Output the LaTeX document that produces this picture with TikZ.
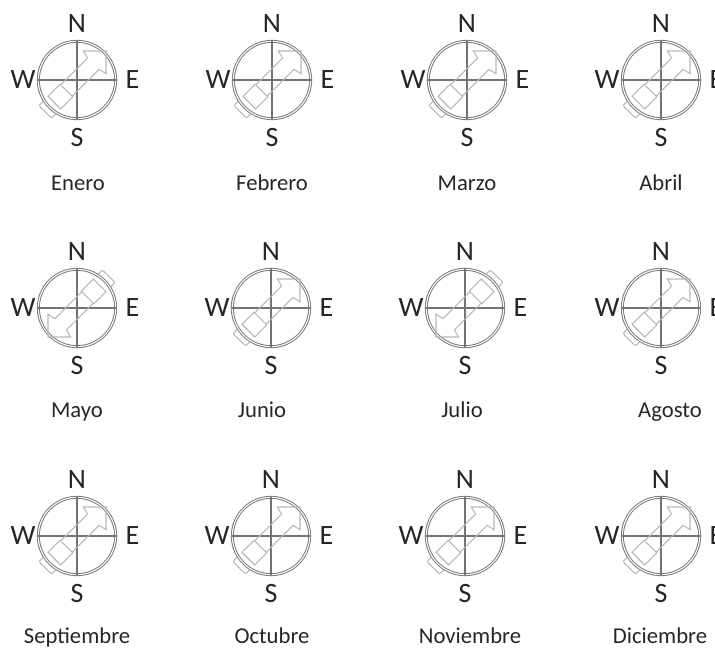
\documentclass[tikz,border=0pt]{standalone}
\usepackage{fontspec}
\setmainfont{Carlito}
\usetikzlibrary{positioning}

\begin{document}
\begin{tikzpicture}[
    x=0.75pt, y=0.75pt,
    node distance=1pt,
    dial/.style={circle, draw=black!55, double, double distance=0.8pt, line width=0.7pt, minimum size=58pt, inner sep=0pt},
    cross/.style={draw=black!55, line width=0.9pt},
    compassletter/.style={font=\fontsize{21}{21}\selectfont, text=black!85, inner sep=0pt},
    monthname/.style={font=\fontsize{17}{18}\selectfont, text=black!85, inner sep=0pt, anchor=base},
    sail/.style={draw=black!28, line width=0.8pt},
]
\useasboundingbox (0,0) rectangle (715,650);

% one compass per month: x / y / month / direction / x and y of the name
\foreach \cx/\cy/\month/\dir/\mx/\my [count=\i] in {
    77/570/Enero/45/78/459, 272/570/Febrero/45/272/459, 467/570/Marzo/45/467/459, 661/570/Abril/45/661/459,
    77/342/Mayo/225/77/232, 271/342/Junio/45/262/232, 465/342/Julio/225/462/232, 661/342/Agosto/45/670/232,
    77/114/Septiembre/45/77/6, 271/114/Octubre/45/272/6, 465/114/Noviembre/45/470/6, 661/114/Diciembre/45/660/6}
{
    % Ring and letters
    \node[dial] (ring\i) at (\cx,\cy) {};
    \node[compassletter, above=6pt of ring\i] (north\i) {N};
    \node[compassletter, below=7pt of ring\i] (south\i) {S};
    \node[compassletter, left=1.5pt of ring\i] (west\i) {W};
    \node[compassletter, right=7pt of ring\i] (east\i) {E};
    \node[monthname] (month\i) at (\mx,\my) {\month};

    % Cross
    \draw[cross] (ring\i.north) -- (ring\i.south);
    \draw[cross] (ring\i.west) -- (ring\i.east);

    % Arrow with its square tail
    \begin{scope}[shift={(\cx,\cy)}, rotate=\dir]
        \draw[sail] (-15,8) -- (23,8) -- (25,16) -- (41,0) -- (25,-16) -- (23,-8) -- (-15,-8);
        \draw[sail] (-32,-9) rectangle (-15,9);
        \draw[sail, rounded corners=1.5pt] (-39,9) -- (-45,9) -- (-45,-9) -- (-39,-9);
    \end{scope}
}
\end{tikzpicture}
\end{document}
